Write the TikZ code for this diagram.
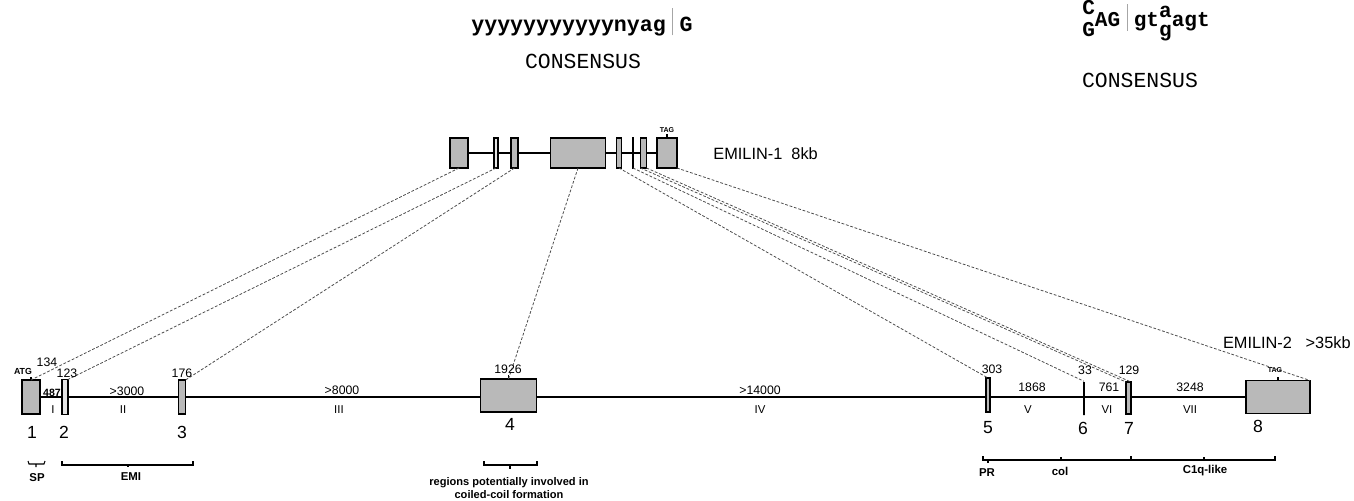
\documentclass[tikz,border=0pt]{standalone}
\usepackage{fontspec}
\setmainfont{Liberation Sans}
\setmonofont{Liberation Mono}
\usetikzlibrary{backgrounds}

\newcommand{\stk}[2]{\raisebox{-0.9ex}{\shortstack{#1\\[0.2ex]#2}}}
\newcommand{\sep}{\hspace{0.3em}{\color{gray!70}\rule[-0.35ex]{0.5pt}{2.4ex}}\hspace{0.3em}}

\tikzset{
  exon/.style={draw, line width=0.8pt, fill=gray!55, inner sep=0pt, outer sep=0pt},
  pale/.style={exon, fill=gray!20},
  link/.style={gray!60!black, line width=0.45pt, dash pattern=on 1.6pt off 1pt},
  num/.style={inner sep=0.5pt, font=\fontsize{7}{8}\selectfont},
  small/.style={inner sep=0.5pt, font=\fontsize{5}{6}\selectfont\bfseries},
  roman/.style={inner sep=0.5pt, font=\fontsize{6.5}{7}\selectfont},
  exnum/.style={inner sep=0.5pt, font=\fontsize{10}{11}\selectfont},
  region/.style={inner sep=0.5pt, font=\fontsize{6.5}{7.5}\selectfont\bfseries, align=center},
  gene/.style={inner sep=0.5pt, font=\fontsize{9.3}{11}\selectfont}
}

\begin{document}
\begin{tikzpicture}[x=0.02cm, y=-0.02cm, line width=0.6pt]
\useasboundingbox (0,0) rectangle (1354,500);

% splice consensus
\node[font=\fontsize{12.3}{13}\selectfont\ttfamily\bfseries] (acc) at (582,22) {yyyyyyyyyyynyag\sep G};
\node[font=\fontsize{12.2}{13}\selectfont\ttfamily] (acclab) at (583,61) {CONSENSUS};
\node[font=\fontsize{12}{13}\selectfont\ttfamily\bfseries] (don) at (1146,21) {\stk{C}{G}AG\sep gt\stk{a}{g}agt};
\node[font=\fontsize{12.2}{13}\selectfont\ttfamily] (donlab) at (1140,80) {CONSENSUS};

% EMILIN-1
\node[exon, minimum width=0.36cm, minimum height=0.6cm] (ta) at (459,153) {};
\node[pale, minimum width=0.08cm, minimum height=0.6cm] (tb) at (496,153) {};
\node[exon, minimum width=0.14cm, minimum height=0.6cm] (tc) at (514.5,153) {};
\node[exon, minimum width=1.1cm, minimum height=0.6cm] (td) at (578,153) {};
\node[exon, minimum width=0.1cm, minimum height=0.6cm] (te) at (619,153) {};
\node[exon, minimum width=0.03cm, minimum height=0.6cm] (tf) at (633,153) {};
\node[exon, minimum width=0.12cm, minimum height=0.6cm] (tg) at (643.5,153) {};
\node[exon, minimum width=0.4cm, minimum height=0.6cm] (th) at (667,153) {};
\begin{scope}[on background layer]
\draw[line width=0.9pt] (ta.center) -- (th.center);
\end{scope}
\draw (th.north) -- ++(0,-4) node[small, font=\fontsize{4}{5}\selectfont\bfseries, above=0pt] (tag1) {TAG};
\node[gene, anchor=west] (emi1) at (712,154) {EMILIN-1\ \ 8kb};

% EMILIN-2
\node[exon, minimum width=0.36cm, minimum height=0.68cm] (e1) at (31,397) {};
\node[pale, minimum width=0.12cm, minimum height=0.7cm] (e2) at (65,397) {};
\node[exon, minimum width=0.14cm, minimum height=0.68cm] (e3) at (182,397) {};
\node[exon, minimum width=1.12cm, minimum height=0.66cm] (e4) at (508.5,395.5) {};
\node[exon, minimum width=0.08cm, minimum height=0.68cm] (e5) at (988,395) {};
\node[draw, line width=0.8pt, inner sep=0pt, minimum width=0pt, minimum height=0.66cm] (e6) at (1084,398.5) {};
\node[exon, minimum width=0.1cm, minimum height=0.64cm] (e7) at (1128.5,398) {};
\node[exon, minimum width=1.28cm, minimum height=0.66cm] (e8) at (1278,397) {};
\begin{scope}[on background layer]
\draw[line width=0.9pt] (e1.center) -- (e8.center);
\end{scope}
\draw (e1.north) -- ++(0,-3);
\draw (e4.north) -- ++(0,-4);
\draw (e8.north) -- ++(0,-4);
\node[gene, anchor=east] (emi2) at (1352,343) {EMILIN-2\ \ \ >35kb};

% exon to exon
\draw[link] (ta.south) -- (e1.north);
\draw[link] (tb.south) -- (e2.north east);
\draw[link] (tc.south) -- (e3.north east);
\draw[link] (td.south) -- (e4.north);
\draw[link] (te.south) -- (e5.north);
\draw[link] (tf.south) -- (e6.north);
\draw[link] (tg.south west) -- (e7.north west);
\draw[link] (tg.south east) -- (e7.north east);
\draw[link] (th.south east) -- (e8.north east);

% sizes
\node[small] (atg) at (23,371) {ATG};
\node[num] (s1) at (47,362) {134};
\node[num] (s2) at (67,373) {123};
\node[num] (s3) at (182,373) {176};
\node[num] (s4) at (508,369) {1926};
\node[num] (s5) at (992,369) {303};
\node[num] (s6) at (1085,370) {33};
\node[num] (s7) at (1129,370) {129};
\node[small, font=\fontsize{4}{5}\selectfont\bfseries] (tag2) at (1275,370) {TAG};
\node[small, font=\fontsize{6}{7}\selectfont\bfseries] (i1) at (52,393) {487};
\node[num] (i2) at (127,391) {>3000};
\node[num] (i3) at (342,390) {>8000};
\node[num] (i4) at (760,390) {>14000};
\node[num] (i5) at (1032,387) {1868};
\node[num] (i6) at (1109,387) {761};
\node[num] (i7) at (1190,387) {3248};
\foreach \r/\x in {I/53,II/123,III/339,IV/760,V/1028,VI/1107,VII/1190}
  \node[roman] (r\r) at (\x,410) {\r};
\foreach \n/\x/\y in {1/32/432,2/64/432,3/182/432,4/510/424,5/988/428,6/1083/428,7/1129/428,8/1258/426}
  \node[exnum] (n\n) at (\x,\y) {\n};

% domains
\draw (28,461) -- (29,464) -- (44,464) -- (45,461) (36,464) -- (36,467);
\draw (62,461) -- (62,465) -- (193,465) -- (193,461) (128,465) -- (128,467);
\draw (484,461) -- (484,465) -- (537,465) -- (537,461) (510,465) -- (510,469);
\draw (983,456) -- (983,460) -- (1275,460) -- (1275,456)
  (988,460) -- (988,463) (1061,460) -- (1061,457) (1131,460) -- (1131,456) (1204,460) -- (1204,457);
\node[region] (sp) at (37,478) {SP};
\node[region] (emi) at (131,477) {EMI};
\node[region, font=\fontsize{6.3}{7.2}\selectfont\bfseries] (cc) at (509,488) {regions potentially involved in\\coiled-coil formation};
\node[region] (pr) at (987,473) {PR};
\node[region] (col) at (1060,471) {col};
\node[region] (c1q) at (1205,471) {C1q-like};
\end{tikzpicture}
\end{document}
